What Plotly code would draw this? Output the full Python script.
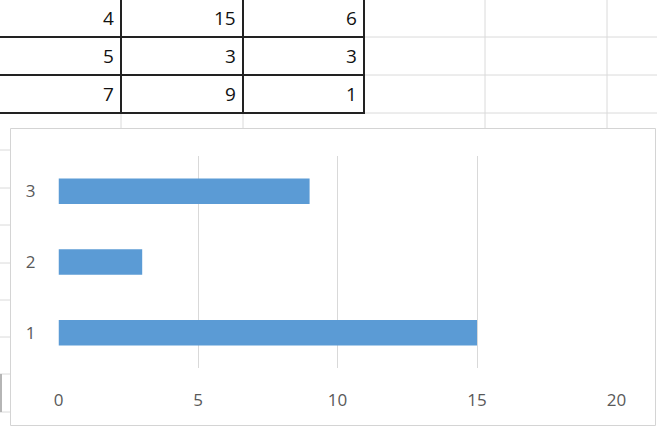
import plotly.graph_objects as go

col_a = [4, 5, 7]
col_b = [15, 3, 9]
col_c = [6, 3, 1]
categories = ["1", "2", "3"]
bar_values = col_b
x_ticks = [0, 5, 10, 15, 20]

W, H = 657, 428

def px(x):
    return x / W

def py(y):
    return 1 - y / H

shapes = []

def line(x0, y0, x1, y1, color, width):
    shapes.append(dict(type="line", xref="paper", yref="paper",
                       x0=px(x0), y0=py(y0), x1=px(x1), y1=py(y1),
                       line=dict(color=color, width=width), layer="below"))

grid = "#DADADA"
# spreadsheet gridlines (gray)
for y in [37, 75, 113]:
    line(363, y, W, y, grid, 1)
for x in [485, 607]:
    line(x, 0, x, 128, grid, 1)
for x in [121, 243]:
    line(x, 113, x, 128, grid, 1)
for y in [150, 188, 225, 263, 300, 337, 374, 412]:
    line(0, y, 10, y, grid, 1)
line(1, 374, 1, 412, "#B5B5B5", 2)

# table borders (black)
for y in [37, 75, 113]:
    line(0, y, 364, y, "#222222", 2)
for x in [121, 243, 364]:
    line(x, 0, x, 114, "#222222", 2)

# chart area
shapes.append(dict(type="rect", xref="paper", yref="paper",
                   x0=px(10.5), y0=py(425.5), x1=px(655.5), y1=py(128.5),
                   fillcolor="white", line=dict(color="#D4D4D4", width=1),
                   layer="below"))

annotations = []
rows_y = [18, 56, 94]
col_right = [116, 238, 359]
for ci, col in enumerate([col_a, col_b, col_c]):
    for ri, v in enumerate(col):
        annotations.append(dict(xref="paper", yref="paper",
                                x=px(col_right[ci]), y=py(rows_y[ri]),
                                text=str(v), showarrow=False,
                                xanchor="right", yanchor="middle",
                                font=dict(family="Open Sans", size=19, color="#111111")))

fig = go.Figure(go.Bar(
    x=bar_values, y=[1, 2, 3], orientation="h",
    marker=dict(color="#5B9BD5", line=dict(width=0)),
    width=0.36,
))

fig.update_layout(
    width=W, height=H,
    margin=dict(l=0, r=0, t=0, b=0, autoexpand=False),
    paper_bgcolor="white",
    plot_bgcolor="rgba(0,0,0,0)",
    showlegend=False,
    shapes=shapes,
    annotations=annotations,
    xaxis=dict(domain=[px(58.5), px(616.5)], range=[0, 20], automargin=False,
               tickvals=x_ticks, showgrid=True, gridcolor="#D9D9D9", gridwidth=1,
               zeroline=False, showline=False, ticks="",
               tickfont=dict(family="Open Sans", size=17, color="#595959"),
               ticklabelstandoff=20, fixedrange=True),
    yaxis=dict(domain=[py(368), py(156)], range=[0.5, 3.5], type="linear", automargin=False,
               tickvals=[1, 2, 3], ticktext=categories,
               showgrid=False, zeroline=False, showline=False, ticks="",
               tickfont=dict(family="Open Sans", size=17, color="#595959"),
               ticklabelstandoff=22, fixedrange=True),
)

fig.write_html("out.html", config={"displayModeBar": False},
               post_script="document.body.style.margin='0';document.body.style.overflow='hidden';")
